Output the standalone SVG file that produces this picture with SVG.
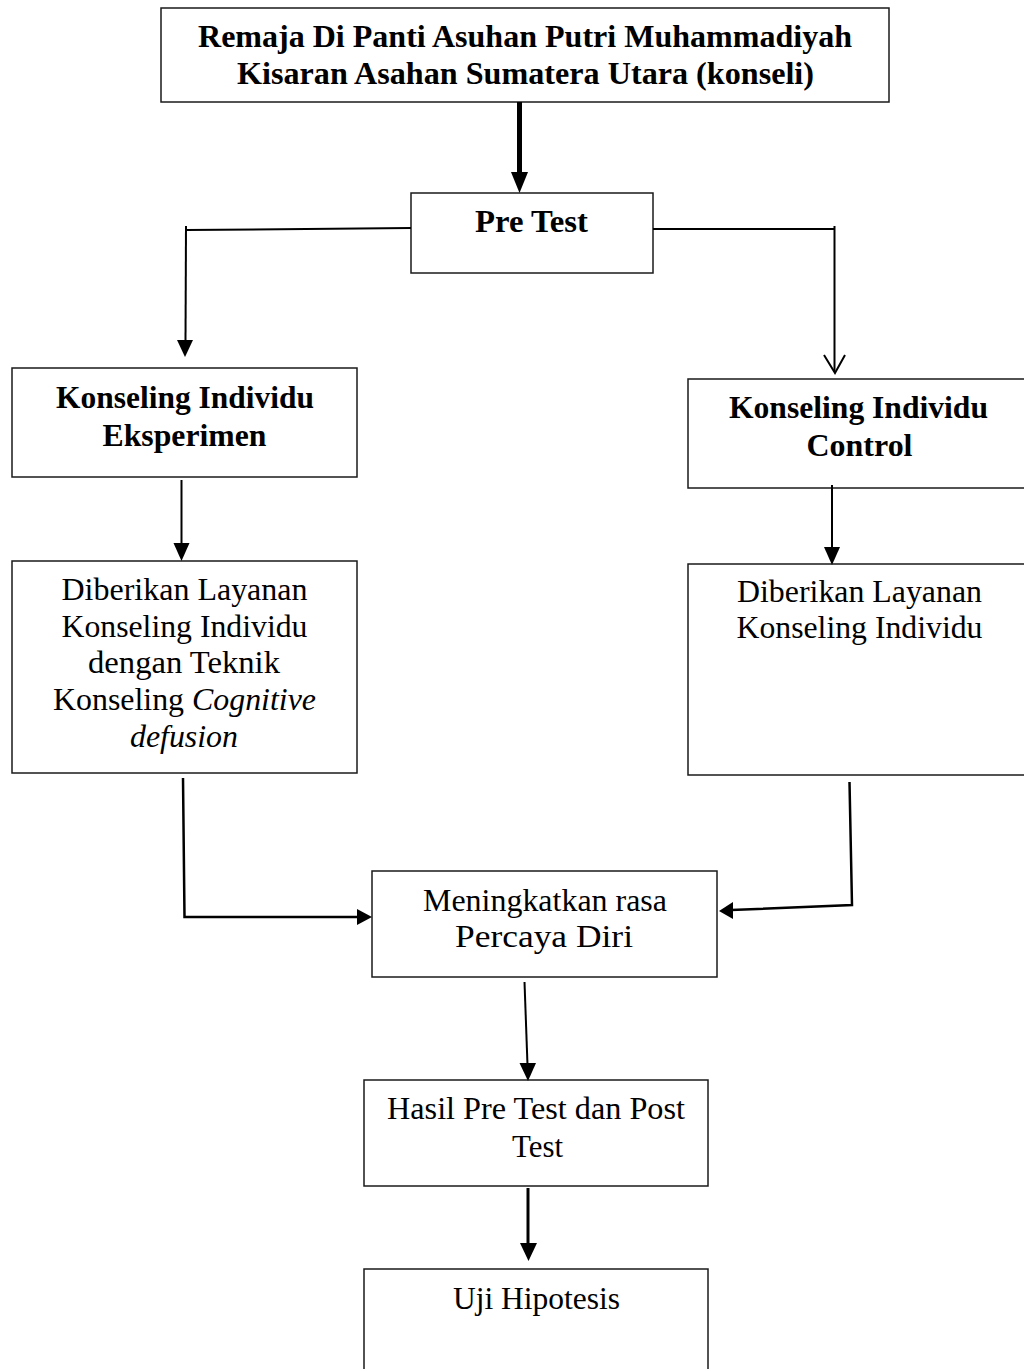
<svg xmlns="http://www.w3.org/2000/svg" width="1024" height="1369" viewBox="0 0 1024 1369">
<style>
.box{fill:#fff;stroke:#1a1a1a;stroke-width:1.5}
.t{font-family:"Liberation Serif","Times New Roman",serif;font-size:31px;fill:#000;text-anchor:middle}
.b{font-weight:bold}
.i{font-style:italic}
.c{fill:none;stroke:#000;stroke-width:2}
.h{fill:#000;stroke:none}
</style>
<rect width="1024" height="1369" fill="#fff"/>
<g id="n-top">
<rect class="box" x="161" y="8" width="728" height="94"/>
<text class="t b" x="525" y="47" textLength="654" lengthAdjust="spacingAndGlyphs">Remaja Di Panti Asuhan Putri Muhammadiyah</text>
<text class="t b" x="525.5" y="84" textLength="577" lengthAdjust="spacingAndGlyphs">Kisaran Asahan Sumatera Utara (konseli)</text>
</g>
<g id="n-pretest">
<rect class="box" x="411" y="193" width="242" height="80"/>
<text class="t b" x="531.5" y="232" textLength="113" lengthAdjust="spacingAndGlyphs">Pre Test</text>
</g>
<g id="n-eksperimen">
<rect class="box" x="12" y="368" width="345" height="109"/>
<text class="t b" x="185" y="408" textLength="258" lengthAdjust="spacingAndGlyphs">Konseling Individu</text>
<text class="t b" x="184.5" y="446" textLength="164" lengthAdjust="spacingAndGlyphs">Eksperimen</text>
</g>
<g id="n-control">
<rect class="box" x="688" y="379" width="340" height="109"/>
<text class="t b" x="858.5" y="418" textLength="259" lengthAdjust="spacingAndGlyphs">Konseling Individu</text>
<text class="t b" x="859.5" y="456" textLength="106" lengthAdjust="spacingAndGlyphs">Control</text>
</g>
<g id="n-layanan-eksperimen">
<rect class="box" x="12" y="561" width="345" height="212"/>
<text class="t" x="184.5" y="600" textLength="246" lengthAdjust="spacingAndGlyphs">Diberikan Layanan</text>
<text class="t" x="184.5" y="637" textLength="246" lengthAdjust="spacingAndGlyphs">Konseling Individu</text>
<text class="t" x="184" y="673" textLength="192" lengthAdjust="spacingAndGlyphs">dengan Teknik</text>
<text class="t" x="184.5" y="710" textLength="263" lengthAdjust="spacingAndGlyphs">Konseling <tspan class="i">Cognitive</tspan></text>
<text class="t i" x="184" y="747" textLength="108" lengthAdjust="spacingAndGlyphs">defusion</text>
</g>
<g id="n-layanan-control">
<rect class="box" x="688" y="564" width="340" height="211"/>
<text class="t" x="859.5" y="602" textLength="245" lengthAdjust="spacingAndGlyphs">Diberikan Layanan</text>
<text class="t" x="859.5" y="638" textLength="246" lengthAdjust="spacingAndGlyphs">Konseling Individu</text>
</g>
<g id="n-meningkatkan">
<rect class="box" x="372" y="871" width="345" height="106"/>
<text class="t" x="545" y="911" textLength="244" lengthAdjust="spacingAndGlyphs">Meningkatkan rasa</text>
<text class="t" x="544" y="947" textLength="178" lengthAdjust="spacingAndGlyphs">Percaya Diri</text>
</g>
<g id="n-hasil">
<rect class="box" x="364" y="1080" width="344" height="106"/>
<text class="t" x="536" y="1119" textLength="298" lengthAdjust="spacingAndGlyphs">Hasil Pre Test dan Post</text>
<text class="t" x="537.5" y="1157" textLength="51" lengthAdjust="spacingAndGlyphs">Test</text>
</g>
<g id="n-uji">
<rect class="box" x="364" y="1269" width="344" height="110"/>
<text class="t" x="536.5" y="1309" textLength="167" lengthAdjust="spacingAndGlyphs">Uji Hipotesis</text>
</g>
<g id="connectors">
<line class="c" x1="519.5" y1="102" x2="519.5" y2="175" style="stroke-width:5"/>
<polygon class="h" points="511,172 528,172 519.5,193"/>
<line class="c" x1="411" y1="228" x2="186" y2="230"/>
<line class="c" x1="186" y1="226" x2="185.5" y2="342"/>
<polygon class="h" points="177,340 193,340 185,357"/>
<line class="c" x1="653" y1="229" x2="835" y2="229"/>
<line class="c" x1="834.5" y1="226" x2="834.5" y2="372"/>
<polyline class="c" points="824,355 835,373 845,355"/>
<line class="c" x1="181.5" y1="480" x2="181.5" y2="546"/>
<polygon class="h" points="173.5,543 189.5,543 181.5,561"/>
<line class="c" x1="832" y1="485" x2="832" y2="549"/>
<polygon class="h" points="824,547 840,547 832,565"/>
<polyline class="c" points="183,778 184.5,917 359,917" style="stroke-width:2.5"/>
<polygon class="h" points="357,909 357,925 372,917"/>
<polyline class="c" points="849.5,782 852,905 731,910" style="stroke-width:2.5"/>
<polygon class="h" points="733,902 733,919 719,911"/>
<line class="c" x1="524.5" y1="982" x2="527.5" y2="1065"/>
<polygon class="h" points="519.5,1063 536,1063 528,1081"/>
<line class="c" x1="528" y1="1188" x2="528" y2="1246" style="stroke-width:3"/>
<polygon class="h" points="520,1243 537,1243 528.5,1261"/>
</g>
</svg>
